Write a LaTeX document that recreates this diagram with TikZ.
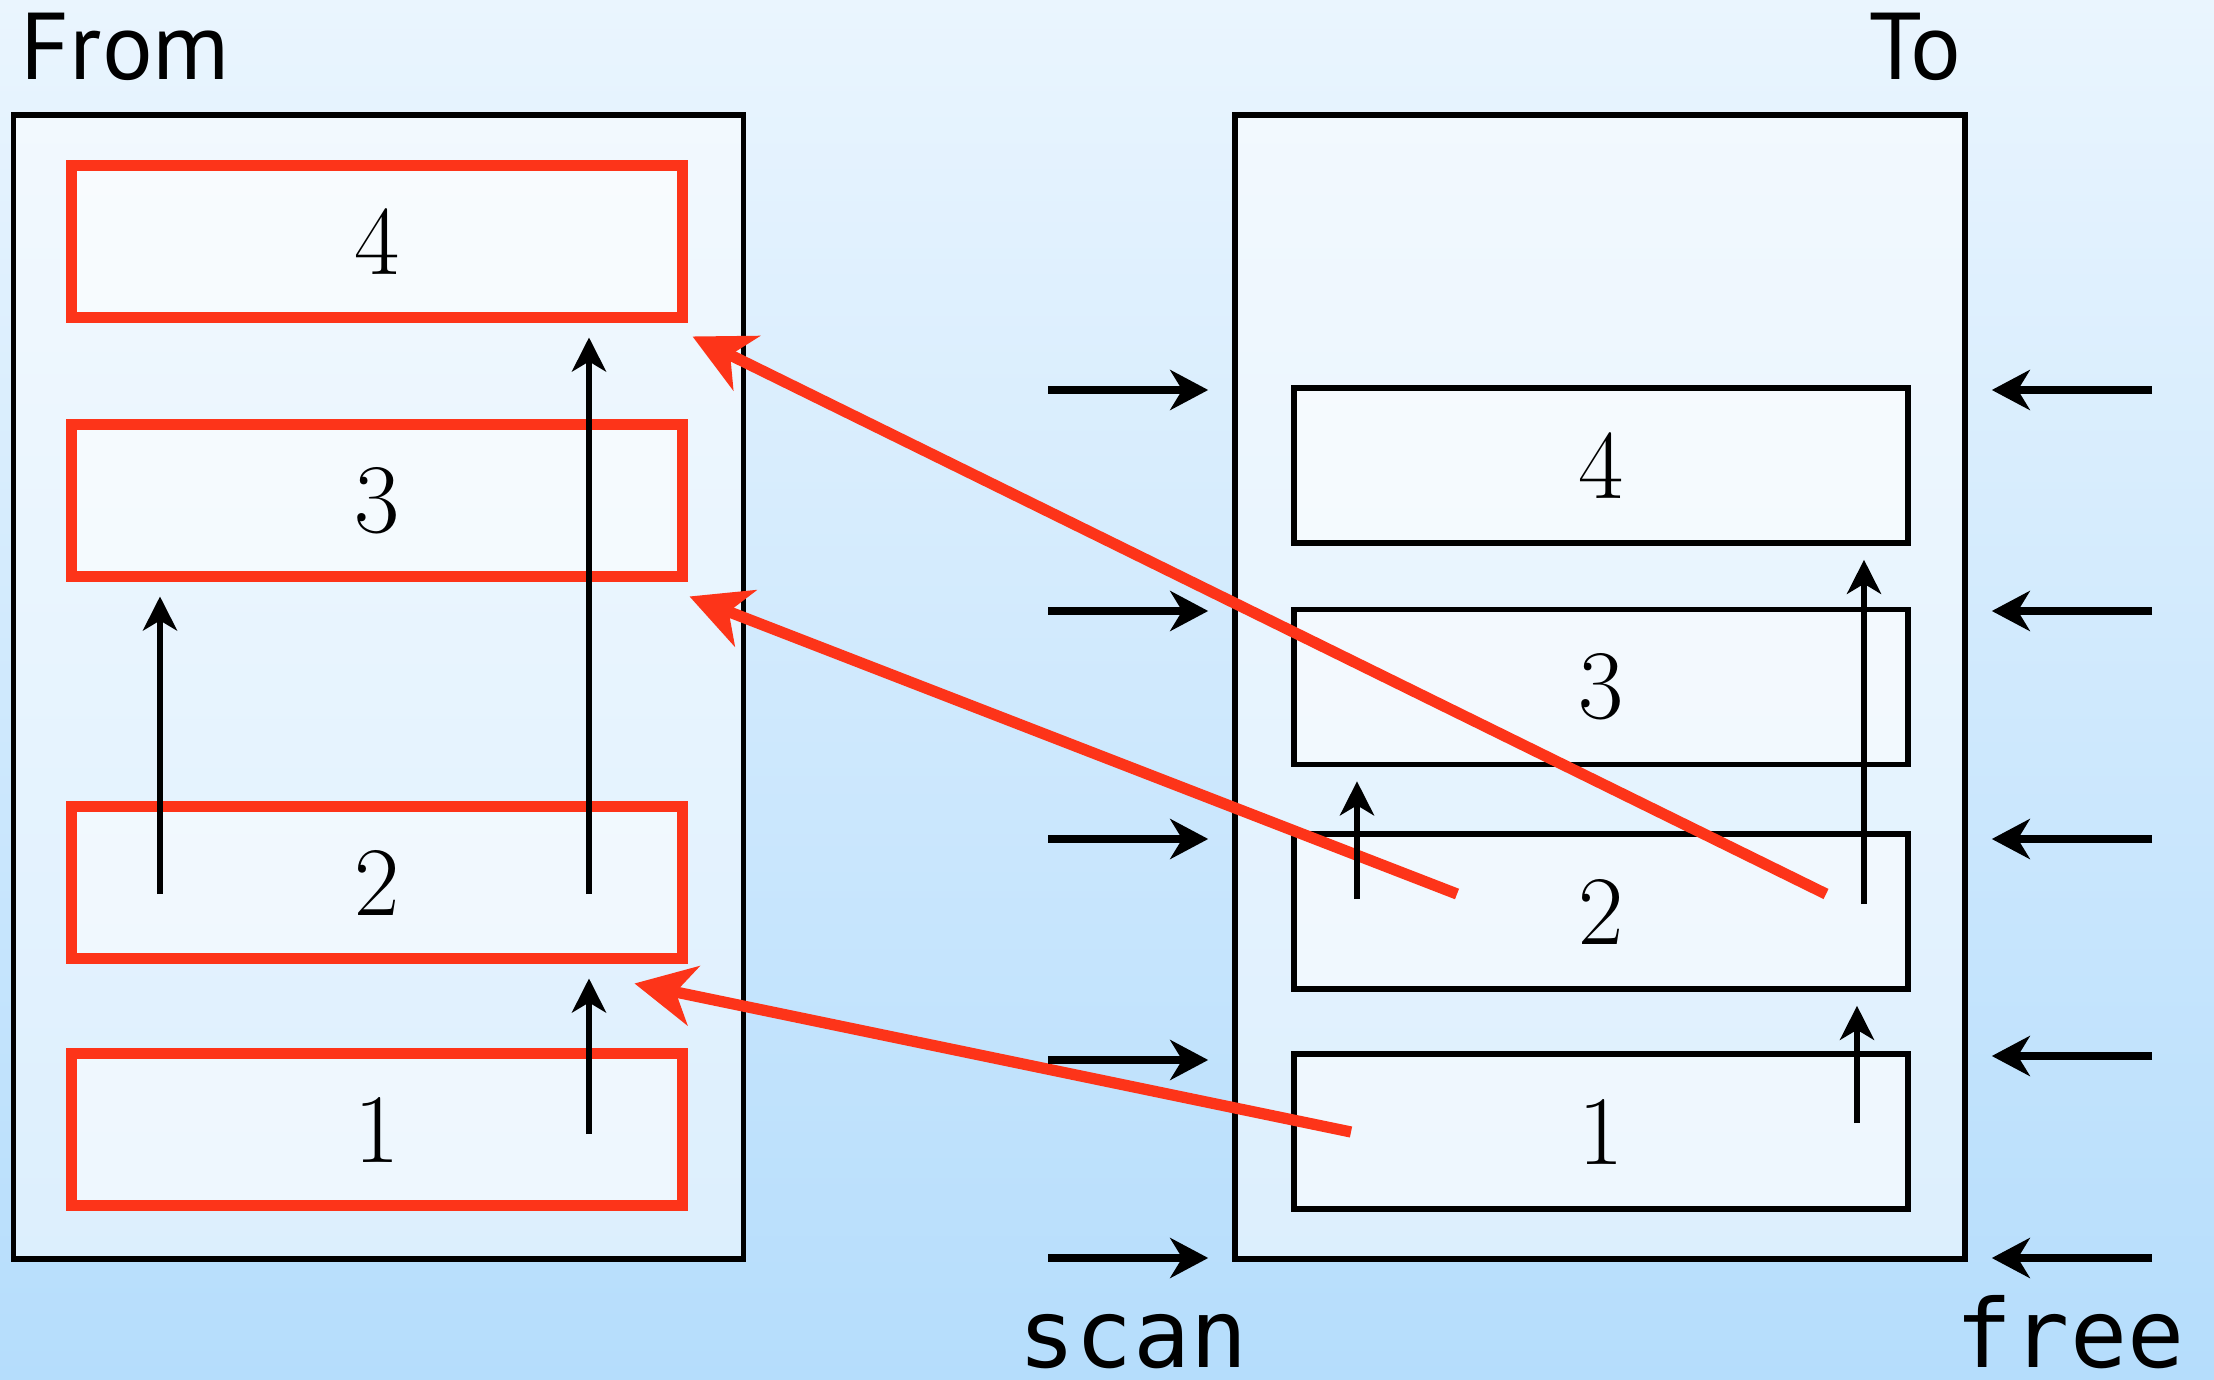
\documentclass[tikz,border=0pt]{standalone}
\usepackage{fontspec}
\newfontfamily\labelfont{PT Sans}
\newfontfamily\regfont{DejaVu Sans Mono}
\usetikzlibrary{arrows.meta}
\definecolor{gcred}{RGB}{253,52,25}
\definecolor{bgtop}{RGB}{234,245,254}
\definecolor{bgbot}{RGB}{181,221,252}

\begin{document}
\begin{tikzpicture}[
  space/.style = {draw, line width=1.6pt, fill=white, fill opacity=0.5, text opacity=1, minimum width=7.3cm, minimum height=11.44cm},
  obj/.style = {draw, line width=1.6pt, fill=white, fill opacity=0.5, text opacity=1, minimum width=6.14cm, minimum height=1.55cm, font=\fontsize{28}{30}\selectfont},
  live/.style = {obj, draw=gcred, line width=3.4pt, minimum width=6.11cm, minimum height=1.52cm},
  ptr/.style = {line width=2.3pt, -{Stealth[length=3.8mm, width=4mm, inset=1.2mm]}, shorten >=2.4mm},
  ref/.style = {line width=1.7pt, -{Stealth[length=3.4mm, width=3.4mm, inset=1mm]}, shorten >=1.4mm},
  fwd/.style = {draw=gcred, line width=3.2pt, -{Stealth[length=6mm, width=6mm, inset=1.8mm]}},
  lbl/.style = {font=\labelfont\fontsize{27}{30}\selectfont, inner sep=0pt},
  reg/.style = {font=\regfont\fontsize{27}{30}\selectfont, inner sep=0pt}
]
  \shade[top color=bgtop, bottom color=bgbot] (0,0) rectangle (22.14,13.79);

  \node[space] (from) at (3.785,6.92) {};
  \node[space] (to) at (16.0,6.92) {};

  \node[live] (f4) at (3.77,11.375) {4};
  \node[live] (f3) at (3.77,8.785) {3};
  \node[live] (f2) at (3.77,4.965) {2};
  \node[live] (f1) at (3.77,2.495) {1};

  \node[obj] (t4) at (16.01,9.135) {4};
  \node[obj] (t3) at (16.01,6.92) {3};
  \node[obj] (t2) at (16.01,4.675) {2};
  \node[obj] (t1) at (16.01,2.475) {1};

  \node[lbl, anchor=base west] (fromlbl) at (0.2,12.99) {From};
  \node[lbl, anchor=base east] (tolbl) at (19.62,12.99) {To};
  \node[reg, anchor=base] (scan) at (11.33,0.12) {scan};
  \node[reg, anchor=base] (free) at (20.70,0.12) {free};

  \coordinate (c1) at (18.26,4.85);
  \coordinate (c2) at (14.57,4.85);
  \coordinate (c3) at (13.51,2.47);
  \draw[fwd] (c1) -- ([shift={(0.04,-0.13)}]f4.south east);
  \draw[fwd] (c2) -- ([shift={(0.01,-0.14)}]f3.south east);
  \draw[fwd] (c3) -- ([shift={(-0.54,-0.19)}]f2.south east);

  \coordinate (a1) at (1.60,4.85);
  \coordinate (a2) at (5.89,4.85);
  \coordinate (a3) at (5.89,2.45);
  \coordinate (b1) at (13.57,4.80);
  \coordinate (b2) at (18.64,4.75);
  \coordinate (b3) at (18.57,2.56);
  \draw[ref] (a1) -- (a1 |- f3.south);
  \draw[ref] (a2) -- (a2 |- f4.south);
  \draw[ref] (a3) -- (a3 |- f2.south);
  \draw[ref] (b1) -- (b1 |- t3.south);
  \draw[ref] (b2) -- (b2 |- t4.south);
  \draw[ref] (b3) -- (b3 |- t2.south);

  \coordinate (s4) at (10.48,9.89);
  \coordinate (s3) at (10.48,7.68);
  \coordinate (s2) at (10.48,5.40);
  \coordinate (s1) at (10.48,3.19);
  \coordinate (s0) at (10.48,1.21);
  \draw[ptr] (s4) -- (s4 -| to.west);
  \draw[ptr] (s3) -- (s3 -| to.west);
  \draw[ptr] (s2) -- (s2 -| to.west);
  \draw[ptr] (s1) -- (s1 -| to.west);
  \draw[ptr] (s0) -- (s0 -| to.west);

  \coordinate (e4) at (21.52,9.89);
  \coordinate (e3) at (21.52,7.68);
  \coordinate (e2) at (21.52,5.40);
  \coordinate (e1) at (21.52,3.23);
  \coordinate (e0) at (21.52,1.21);
  \draw[ptr] (e4) -- (e4 -| to.east);
  \draw[ptr] (e3) -- (e3 -| to.east);
  \draw[ptr] (e2) -- (e2 -| to.east);
  \draw[ptr] (e1) -- (e1 -| to.east);
  \draw[ptr] (e0) -- (e0 -| to.east);
\end{tikzpicture}
\end{document}
